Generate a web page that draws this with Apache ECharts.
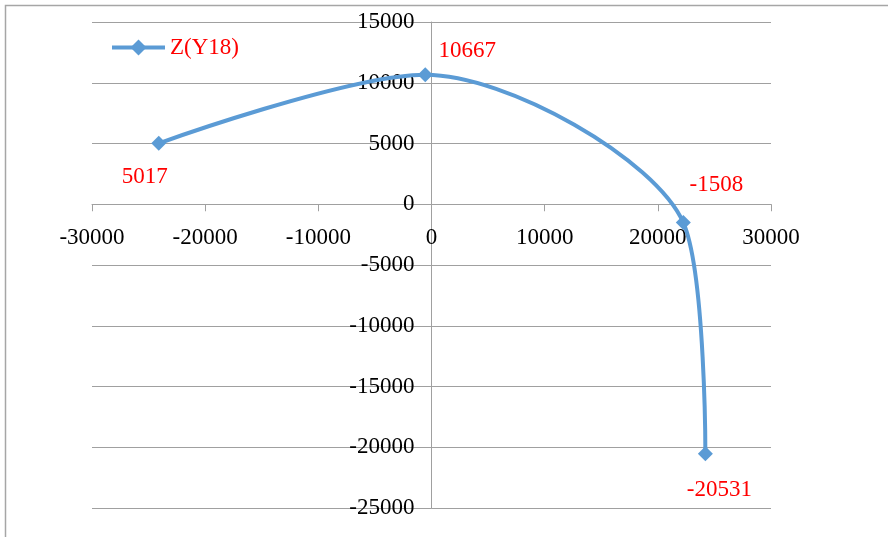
<!DOCTYPE html>
<html>
<head>
<meta charset="utf-8">
<script src="https://cdn.jsdelivr.net/npm/echarts@6/dist/echarts.min.js"></script>
<style>html,body{margin:0;padding:0;background:#fff}#c{width:888px;height:537px}</style>
</head>
<body>
<div id="c"></div>
<script>
const seriesName = 'Z(Y18)';
const xValues = [-24100, -550, 22250, 24200];
const yValues = [5017, 10667, -1508, -20531];
const xTicks = { min: -30000, max: 30000, interval: 10000 };
const yTicks = { min: -25000, max: 15000, interval: 5000 };
const labelOffsets = [[-14, 34], [42, -24], [33, -38], [14, 36]];

const FONT = '"Liberation Serif", "Times New Roman", serif';
const W = 888, H = 537;
const G = { left: 92, right: 117, top: 22, bottom: 29 };
const plotW = W - G.left - G.right, plotH = H - G.top - G.bottom;
// move axes to cross at zero (line + labels together)
const yAxisOffset = -plotW * (0 - xTicks.min) / (xTicks.max - xTicks.min);
const xAxisOffset = -plotH * (0 - yTicks.min) / (yTicks.max - yTicks.min);

const chart = echarts.init(document.getElementById('c'), null, { renderer: 'canvas' });
const data = xValues.map((x, i) => ({
  value: [x, yValues[i]],
  label: { offset: labelOffsets[i] }
}));
chart.setOption({
  animation: false,
  backgroundColor: '#fff',
  graphic: [{
    type: 'rect',
    shape: { x: 5.5, y: 5.5, width: 1000, height: 1000 },
    style: { fill: 'none', stroke: '#a6a6a6', lineWidth: 1.5 },
    silent: true
  }],
  grid: G,
  legend: {
    left: 105, top: 31,
    itemWidth: 53, itemHeight: 20, itemGap: 10,
    lineStyle: { width: 4 },
    textStyle: { color: '#ff0000', fontFamily: FONT, fontSize: 23 },
    data: [seriesName]
  },
  xAxis: {
    type: 'value', min: xTicks.min, max: xTicks.max, interval: xTicks.interval,
    position: 'bottom', offset: xAxisOffset,
    axisLine: { onZero: false, lineStyle: { color: '#a0a0a0', width: 1 } },
    axisTick: { show: true, inside: false, length: 7, lineStyle: { color: '#a0a0a0' } },
    axisLabel: { color: '#000', fontFamily: FONT, fontSize: 23, margin: 22, formatter: v => String(v) },
    splitLine: { show: false }
  },
  yAxis: {
    type: 'value', min: yTicks.min, max: yTicks.max, interval: yTicks.interval,
    position: 'left', offset: yAxisOffset,
    axisLine: { show: true, onZero: false, lineStyle: { color: '#a0a0a0', width: 1 } },
    axisTick: { show: true, length: 5, lineStyle: { color: '#a0a0a0' } },
    axisLabel: { color: '#000', fontFamily: FONT, fontSize: 23, margin: 17, formatter: v => String(v) },
    splitLine: { show: true, lineStyle: { color: '#a0a0a0', width: 1 } }
  },
  series: [{
    name: seriesName,
    type: 'line',
    smooth: 0.3,
    data: data,
    symbol: 'diamond',
    symbolSize: 15,
    lineStyle: { color: '#5b9bd5', width: 4 },
    itemStyle: { color: '#5b9bd5' },
    label: {
      show: true, position: 'inside', color: '#ff0000',
      fontFamily: FONT, fontSize: 23,
      formatter: p => String(p.value[1])
    }
  }]
});
</script>
</body>
</html>
